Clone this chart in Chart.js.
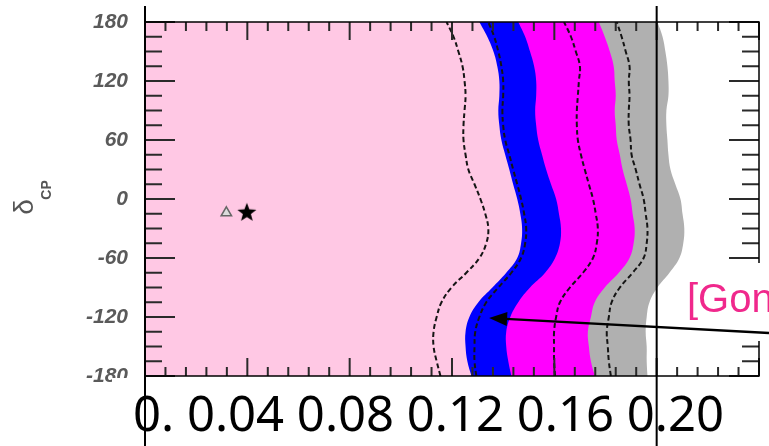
<!DOCTYPE html>
<html>
<head>
<meta charset="utf-8">
<script src="https://cdn.jsdelivr.net/npm/chart.js@4/dist/chart.umd.min.js"></script>
<style>
  html, body { margin: 0; padding: 0; background: #fff; }
  #wrap { width: 769px; height: 446px; position: relative; }
</style>
</head>
<body>
<div id="wrap"><canvas id="c"></canvas></div>
<script>
// delta_CP grid (deg), bottom to top
const deltaCP = [-180, -165, -150, -135, -120, -105, -90, -75, -60, -45, -30, -15, 0,
                 15, 30, 45, 60, 75, 90, 105, 120, 135, 150, 165, 180];

// sin^2 2theta13 reach of each contour, one value per deltaCP
const pinkDashed  = [0.1155, 0.1140, 0.1128, 0.1128, 0.1140, 0.1159, 0.1198, 0.1256, 0.1307, 0.1334, 0.1342, 0.1330, 0.1311,
                     0.1288, 0.1264, 0.1253, 0.1245, 0.1245, 0.1249, 0.1253, 0.1249, 0.1241, 0.1225, 0.1206, 0.1179];
const blueLeft    = [0.1276, 0.1260, 0.1253, 0.1253, 0.1268, 0.1303, 0.1358, 0.1412, 0.1455, 0.1470, 0.1474, 0.1467, 0.1455,
                     0.1439, 0.1424, 0.1408, 0.1393, 0.1385, 0.1381, 0.1385, 0.1385, 0.1377, 0.1362, 0.1338, 0.1307];
const blueDashed  = [0.1295, 0.1288, 0.1288, 0.1291, 0.1307, 0.1334, 0.1381, 0.1432, 0.1470, 0.1486, 0.1490, 0.1482, 0.1470,
                     0.1455, 0.1439, 0.1424, 0.1408, 0.1400, 0.1397, 0.1400, 0.1400, 0.1393, 0.1381, 0.1365, 0.1342];
const magentaLeft = [0.1432, 0.1420, 0.1412, 0.1412, 0.1428, 0.1459, 0.1505, 0.1564, 0.1603, 0.1622, 0.1626, 0.1618, 0.1607,
                     0.1587, 0.1568, 0.1552, 0.1537, 0.1529, 0.1525, 0.1529, 0.1529, 0.1521, 0.1505, 0.1486, 0.1459];
const magentaDash = [0.1603, 0.1599, 0.1599, 0.1599, 0.1607, 0.1622, 0.1661, 0.1712, 0.1751, 0.1766, 0.1770, 0.1762, 0.1751,
                     0.1735, 0.1719, 0.1704, 0.1692, 0.1688, 0.1688, 0.1692, 0.1696, 0.1700, 0.1684, 0.1665, 0.1638];
const grayLeft    = [0.1758, 0.1743, 0.1735, 0.1731, 0.1743, 0.1758, 0.1797, 0.1852, 0.1894, 0.1910, 0.1914, 0.1906, 0.1898,
                     0.1883, 0.1867, 0.1856, 0.1844, 0.1840, 0.1836, 0.1840, 0.1836, 0.1832, 0.1817, 0.1797, 0.1774];
const grayDashed  = [0.1821, 0.1813, 0.1809, 0.1805, 0.1813, 0.1824, 0.1856, 0.1906, 0.1949, 0.1961, 0.1964, 0.1957, 0.1949,
                     0.1933, 0.1918, 0.1902, 0.1898, 0.1891, 0.1891, 0.1894, 0.1891, 0.1894, 0.1879, 0.1863, 0.1844];
const grayRight   = [0.1964, 0.1961, 0.1961, 0.1957, 0.1961, 0.1972, 0.2003, 0.2050, 0.2089, 0.2104, 0.2108, 0.2101, 0.2093,
                     0.2073, 0.2054, 0.2046, 0.2042, 0.2038, 0.2038, 0.2046, 0.2046, 0.2042, 0.2034, 0.2023, 0.2003];

// best fit markers (triangle, star)
const markerX = [0.0318, 0.0398];
const markerY = [-14, -13];

const xMin = 0, xMax = 0.24;
const yTickValues = [-180, -120, -60, 0, 60, 120, 180];
const bottomLabels = ['0.', '0.04', '0.08', '0.12', '0.16', '0.20'];
const guideLines = [0, 0.20];
const arrowTip = { x: 0.1345, y: -121 };
const noteText = '[Gon';

function pts(xs) {
  return deltaCP.map((d, i) => ({ x: xs[i], y: d }));
}

// every band is filled from the left edge; later ones sit underneath
function band(xs, color) {
  return {
    data: pts(xs), fill: { value: xMin }, backgroundColor: color,
    borderColor: 'transparent', borderWidth: 0, pointRadius: 0, tension: 0.4, order: 0
  };
}

function dashed(xs) {
  return {
    data: pts(xs), fill: false, borderColor: '#151515', borderWidth: 2,
    borderDash: [5, 3], pointRadius: 0, tension: 0.4, order: -1
  };
}

// filled star for the second marker
const star = document.createElement('canvas');
star.width = 22; star.height = 22;
(function () {
  const g = star.getContext('2d');
  g.beginPath();
  for (let i = 0; i < 10; i++) {
    const r = i % 2 === 0 ? 10 : 4.2;
    const a = -Math.PI / 2 + i * Math.PI / 5;
    g.lineTo(11 + r * Math.cos(a), 12 + r * Math.sin(a));
  }
  g.closePath();
  g.fillStyle = '#000';
  g.fill();
})();

const overlay = {
  id: 'overlay',
  afterDatasetsDraw(chart) {
    const { ctx, chartArea: a, scales: { x, y } } = chart;
    ctx.save();
    ctx.strokeStyle = '#2a2a2a';
    ctx.lineWidth = 2;
    ctx.beginPath();
    for (let i = 0; i <= 30; i++) {
      const px = x.getPixelForValue(i * 0.008);
      const len = i % 5 === 0 ? 18 : 9;
      ctx.moveTo(px, a.top); ctx.lineTo(px, a.top + len);
      ctx.moveTo(px, a.bottom); ctx.lineTo(px, a.bottom - len);
    }
    for (let d = -180; d <= 180; d += 15) {
      const py = y.getPixelForValue(d);
      const len = d % 60 === 0 ? 30 : 17;
      ctx.moveTo(a.left, py); ctx.lineTo(a.left + len, py);
      ctx.moveTo(a.right, py); ctx.lineTo(a.right - len, py);
    }
    ctx.stroke();
    ctx.strokeStyle = '#000';
    ctx.lineWidth = 1.5;
    ctx.strokeRect(a.left, a.top, a.right - a.left, a.bottom - a.top);
    ctx.restore();
  },
  afterDraw(chart) {
    const { ctx, chartArea: a, scales: { x, y } } = chart;
    const W = chart.width, H = chart.height;
    ctx.save();

    // white slide boxes over the figure
    ctx.fillStyle = '#fff';
    ctx.fillRect(112, a.bottom + 2, W - 112, H - a.bottom - 2);
    ctx.fillRect(678, 263, W - 678, 78);

    // citation text
    ctx.fillStyle = '#f0288c';
    ctx.font = '40px "Liberation Sans", Arial, sans-serif';
    ctx.textAlign = 'left';
    ctx.textBaseline = 'alphabetic';
    ctx.fillText(noteText, 687, 312);

    // arrow from the note to the band
    const tx = x.getPixelForValue(arrowTip.x), ty = y.getPixelForValue(arrowTip.y);
    const sx = W, sy = 333;
    const ang = Math.atan2(ty - sy, tx - sx);
    ctx.strokeStyle = '#000';
    ctx.fillStyle = '#000';
    ctx.lineWidth = 2.5;
    ctx.beginPath();
    ctx.moveTo(sx, sy);
    ctx.lineTo(tx - 12 * Math.cos(ang), ty - 12 * Math.sin(ang));
    ctx.stroke();
    ctx.beginPath();
    ctx.moveTo(tx, ty);
    ctx.lineTo(tx - 18 * Math.cos(ang) + 7 * Math.sin(ang), ty - 18 * Math.sin(ang) - 7 * Math.cos(ang));
    ctx.lineTo(tx - 18 * Math.cos(ang) - 7 * Math.sin(ang), ty - 18 * Math.sin(ang) + 7 * Math.cos(ang));
    ctx.closePath();
    ctx.fill();

    // vertical guide lines
    ctx.lineWidth = 2;
    ctx.beginPath();
    guideLines.forEach(v => {
      const px = x.getPixelForValue(v);
      ctx.moveTo(px, 6); ctx.lineTo(px, H);
    });
    ctx.stroke();

    // big slide axis labels
    ctx.fillStyle = '#000';
    ctx.font = '49px "Noto Sans", sans-serif';
    ctx.textBaseline = 'alphabetic';
    ctx.fillText(bottomLabels.join(' '), a.left - 12, 431);

    // delta_CP axis title
    ctx.fillStyle = '#555';
    ctx.translate(25, 207);
    ctx.rotate(-Math.PI / 2);
    ctx.textAlign = 'center';
    ctx.textBaseline = 'middle';
    ctx.font = '28px "Liberation Sans", sans-serif';
    ctx.fillText('δ', 0, 0);
    ctx.font = 'bold 14px "Liberation Sans", sans-serif';
    ctx.fillText('CP', 17, 22);
    ctx.restore();
  }
};

new Chart(document.getElementById('c'), {
  type: 'line',
  data: {
    datasets: [
      band(blueLeft, '#ffc8e4'),
      band(magentaLeft, '#0000ff'),
      band(grayLeft, '#ff00ff'),
      band(grayRight, '#b0b0b0'),
      dashed(pinkDashed),
      dashed(blueDashed),
      dashed(magentaDash),
      dashed(grayDashed),
      {
        data: markerX.map((v, i) => ({ x: v, y: markerY[i] })),
        showLine: false,
        pointStyle: ['triangle', star],
        pointRadius: [6, 10],
        pointBackgroundColor: ['#dcdcdc', '#000'],
        pointBorderColor: ['#666', '#000'],
        pointBorderWidth: [1.5, 0],
        order: -2
      }
    ]
  },
  options: {
    indexAxis: 'y',
    responsive: true,
    maintainAspectRatio: false,
    animation: false,
    layout: { padding: { top: 22, right: 7, left: 0, bottom: 0 } },
    plugins: { legend: { display: false }, tooltip: { enabled: false } },
    scales: {
      x: {
        type: 'linear', min: xMin, max: xMax,
        grid: { display: false, drawTicks: false },
        border: { display: false },
        ticks: { display: false },
        afterFit: s => { s.height = 70; s.paddingLeft = 0; s.paddingRight = 0; }
      },
      y: {
        type: 'linear', min: -180, max: 180,
        grid: { display: false, drawTicks: false },
        border: { display: false },
        afterBuildTicks: s => { s.ticks = yTickValues.map(v => ({ value: v })); },
        ticks: {
          padding: 17,
          color: '#5a5a5a',
          font: { family: '"Liberation Sans", Arial, sans-serif', size: 21, style: 'italic', weight: 'bold' }
        },
        afterFit: s => { s.width = 145; s.paddingTop = 0; s.paddingBottom = 0; }
      }
    }
  },
  plugins: [overlay]
});
</script>
</body>
</html>
